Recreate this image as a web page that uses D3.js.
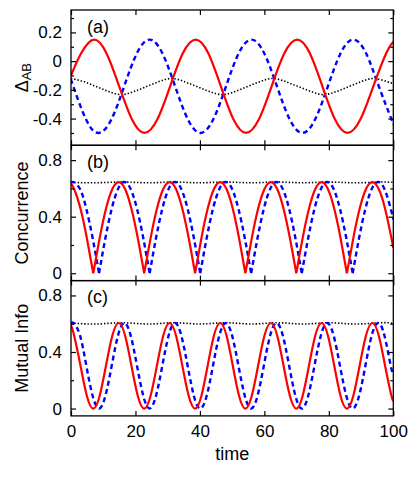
<!DOCTYPE html>
<html>
<head>
<meta charset="utf-8">
<title>Delta AB, concurrence and mutual info vs time</title>
<script src="https://cdn.jsdelivr.net/npm/d3@7"></script>
<style>
body { margin: 0; background: #fff; }
text { font-family: "Liberation Sans", Arial, sans-serif; fill: #000; }
.axis text { font-size: 17px; }
.axis line { stroke: #000; stroke-width: 1.2; }
</style>
</head>
<body>
<div id="g"></div>
<script>
// values, as [time, value]

// panel (a): Delta_AB
var deltaRed = [[0,-0.10],[3.15,0.055],[7.1,0.15],[11.0,0.055],[14.95,-0.175],[18.9,-0.405],[22.8,-0.50],[26.8,-0.405],[30.75,-0.175],[34.7,0.055],[38.7,0.15],[42.6,0.055],[46.5,-0.175],[50.4,-0.405],[54.3,-0.50],[58.3,-0.405],[62.25,-0.175],[66.2,0.055],[70.2,0.15],[74.1,0.055],[78.0,-0.175],[81.9,-0.405],[85.8,-0.50],[89.8,-0.405],[93.8,-0.175],[97.8,0.055],[100,0.135]];
var deltaBlue = [[0,-0.13],[0.7,-0.175],[4.65,-0.405],[8.6,-0.50],[12.55,-0.405],[16.5,-0.175],[20.45,0.055],[24.4,0.15],[28.35,0.055],[32.3,-0.175],[36.25,-0.405],[40.2,-0.50],[44.15,-0.405],[48.1,-0.175],[52.05,0.055],[56.0,0.15],[59.95,0.055],[63.9,-0.175],[67.85,-0.405],[71.8,-0.50],[75.75,-0.405],[79.7,-0.175],[83.65,0.055],[87.6,0.15],[91.55,0.055],[95.5,-0.175],[99.45,-0.405],[100,-0.43]];
var deltaBlack = [[0,-0.121],[3.9,-0.142],[7.8,-0.177],[11.7,-0.212],[15.6,-0.233],[19.5,-0.212],[23.4,-0.177],[27.3,-0.142],[31.2,-0.121],[35.1,-0.142],[39.0,-0.177],[43.0,-0.212],[47.0,-0.233],[50.9,-0.212],[54.8,-0.177],[58.7,-0.142],[62.6,-0.121],[66.5,-0.142],[70.5,-0.177],[74.5,-0.212],[78.4,-0.233],[82.3,-0.212],[86.2,-0.177],[90.1,-0.142],[94.0,-0.121],[97.9,-0.142],[100,-0.153]];

// panel (b): concurrence
var concRed = [[0,0.632],[0.97,0.596],[2.95,0.456],[4.93,0.247],[6.9,0],[8.88,0.247],[10.85,0.456],[12.83,0.596],[14.8,0.645],[16.78,0.596],[18.75,0.456],[20.73,0.247],[22.7,0],[24.68,0.247],[26.65,0.456],[28.63,0.596],[30.6,0.645],[32.58,0.596],[34.55,0.456],[36.53,0.247],[38.5,0],[40.45,0.247],[42.4,0.456],[44.35,0.596],[46.3,0.645],[48.25,0.596],[50.2,0.456],[52.15,0.247],[54.1,0],[56.08,0.247],[58.05,0.456],[60.03,0.596],[62.0,0.645],[63.98,0.596],[65.95,0.456],[67.93,0.247],[69.9,0],[71.86,0.247],[73.83,0.456],[75.79,0.596],[77.75,0.645],[79.71,0.596],[81.68,0.456],[83.64,0.247],[85.6,0],[87.58,0.247],[89.55,0.456],[91.53,0.596],[93.5,0.645],[95.48,0.596],[97.45,0.456],[99.43,0.247],[100,0.178]];
var concBlue = [[0,0.637],[0.8,0.645],[2.79,0.596],[4.76,0.456],[6.73,0.247],[8.7,0],[10.66,0.247],[12.63,0.456],[14.59,0.596],[16.55,0.645],[18.51,0.596],[20.48,0.456],[22.44,0.247],[24.4,0],[26.36,0.247],[28.33,0.456],[30.29,0.596],[32.25,0.645],[34.21,0.596],[36.18,0.456],[38.14,0.247],[40.1,0],[42.08,0.247],[44.05,0.456],[46.03,0.596],[48.0,0.645],[49.98,0.596],[51.95,0.456],[53.93,0.247],[55.9,0],[57.86,0.247],[59.83,0.456],[61.79,0.596],[63.75,0.645],[65.71,0.596],[67.68,0.456],[69.64,0.247],[71.6,0],[73.58,0.247],[75.55,0.456],[77.53,0.596],[79.5,0.645],[81.48,0.596],[83.45,0.456],[85.43,0.247],[87.4,0],[89.37,0.247],[91.34,0.456],[93.3,0.596],[95.27,0.645],[97.24,0.596],[99.21,0.456],[100,0.38]];
var concBlack = [[0,0.643],[8,0.640],[16,0.645],[24,0.640],[32,0.645],[40,0.640],[48,0.645],[56,0.640],[64,0.645],[72,0.640],[80,0.645],[88,0.640],[96,0.645],[100,0.643]];

// panel (c): mutual info
var miRed = [[0,0.59],[0.97,0.517],[2.95,0.303],[4.93,0.089],[6.9,0],[8.88,0.089],[10.85,0.303],[12.83,0.517],[14.8,0.605],[16.78,0.517],[18.75,0.303],[20.73,0.089],[22.7,0],[24.68,0.089],[26.65,0.303],[28.63,0.517],[30.6,0.605],[32.58,0.517],[34.55,0.303],[36.53,0.089],[38.5,0],[40.45,0.089],[42.4,0.303],[44.35,0.517],[46.3,0.605],[48.25,0.517],[50.2,0.303],[52.15,0.089],[54.1,0],[56.08,0.089],[58.05,0.303],[60.03,0.517],[62.0,0.605],[63.98,0.517],[65.95,0.303],[67.93,0.089],[69.9,0],[71.86,0.089],[73.83,0.303],[75.79,0.517],[77.75,0.605],[79.71,0.517],[81.68,0.303],[83.64,0.089],[85.6,0],[87.58,0.089],[89.55,0.303],[91.53,0.517],[93.5,0.605],[95.48,0.517],[97.45,0.303],[99.43,0.089],[100,0.065]];
var miBlue = [[0,0.60],[0.8,0.605],[2.79,0.517],[4.76,0.303],[6.73,0.089],[8.7,0],[10.66,0.089],[12.63,0.303],[14.59,0.517],[16.55,0.605],[18.51,0.517],[20.48,0.303],[22.44,0.089],[24.4,0],[26.36,0.089],[28.33,0.303],[30.29,0.517],[32.25,0.605],[34.21,0.517],[36.18,0.303],[38.14,0.089],[40.1,0],[42.08,0.089],[44.05,0.303],[46.03,0.517],[48.0,0.605],[49.98,0.517],[51.95,0.303],[53.93,0.089],[55.9,0],[57.86,0.089],[59.83,0.303],[61.79,0.517],[63.75,0.605],[65.71,0.517],[67.68,0.303],[69.64,0.089],[71.6,0],[73.58,0.089],[75.55,0.303],[77.53,0.517],[79.5,0.605],[81.48,0.517],[83.45,0.303],[85.43,0.089],[87.4,0],[89.37,0.089],[91.34,0.303],[93.3,0.517],[95.27,0.605],[97.24,0.517],[99.21,0.303],[100,0.24]];
var miBlack = [[0,0.605],[8,0.598],[16,0.607],[24,0.598],[32,0.607],[40,0.598],[48,0.607],[56,0.598],[64,0.607],[72,0.598],[80,0.607],[88,0.598],[96,0.607],[100,0.603]];

// ticks
var xTicks = [0, 20, 40, 60, 80, 100];
var deltaTicks = [-0.4, -0.2, 0, 0.2], deltaMinor = [-0.5, -0.3, -0.1, 0.1, 0.3];
var probTicks = [0, 0.4, 0.8], probMinor = [0.2, 0.6];

var width = 415, height = 490;
var left = 71, right = 393.3, top0 = 10, panelH = 135.3;

var red = {color: "#ff0000", w: 2.2, dash: null};
var blue = {color: "#0000ff", w: 2.4, dash: "5,3.5"};
var black = {color: "#000", w: 1.6, dash: "1.4,1.9"};

var panels = [
  {tag: "(a)", domain: [-0.586, 0.356], ticks: deltaTicks, minor: deltaMinor,
   series: [[deltaBlack, black, false], [deltaBlue, blue, false], [deltaRed, red, false]]},
  {tag: "(b)", label: "Concurrence", domain: [-0.052, 0.905], ticks: probTicks, minor: probMinor,
   series: [[concBlack, black, false], [concBlue, blue, true], [concRed, red, true]]},
  {tag: "(c)", label: "Mutual Info", domain: [-0.052, 0.905], ticks: probTicks, minor: probMinor,
   series: [[miBlack, black, false], [miBlue, blue, false], [miRed, red, false]]}
];

var svg = d3.select("#g").append("svg")
    .attr("width", width)
    .attr("height", height);

var x = d3.scaleLinear().domain([0, 100]).range([left, right]);

function fmt(d) { return String(+d.toFixed(1)); }

// concurrence has cusps at its zeros, so those curves are drawn arch by arch
function pieces(data, cusp) {
  if (!cusp) return [data];
  var out = [], cur = [];
  data.forEach(function (d, i) {
    cur.push(d);
    if (d[1] === 0 && i > 0 && i < data.length - 1) { out.push(cur); cur = [d]; }
  });
  out.push(cur);
  return out;
}

panels.forEach(function (p, i) {
  var y0 = top0 + i * panelH, y1 = y0 + panelH;
  var y = d3.scaleLinear().domain(p.domain).range([y1, y0]);
  var g = svg.append("g");

  g.append("clipPath").attr("id", "clip" + i)
    .append("rect").attr("x", left).attr("y", y0).attr("width", right - left).attr("height", panelH);

  var line = d3.line()
      .x(function (d) { return x(d[0]); })
      .y(function (d) { return y(d[1]); })
      .curve(d3.curveNatural);

  var lines = g.append("g").attr("clip-path", "url(#clip" + i + ")");
  p.series.forEach(function (s) {
    lines.append("path")
      .attr("d", pieces(s[0], s[2]).map(function (seg) { return line(seg); }).join(""))
      .attr("fill", "none")
      .attr("stroke", s[1].color)
      .attr("stroke-width", s[1].w)
      .attr("stroke-dasharray", s[1].dash)
      .attr("stroke-linejoin", "round");
  });

  // y axes, ticks pointing inward on both sides
  g.append("g").attr("class", "axis").attr("transform", "translate(" + left + ",0)")
    .call(d3.axisLeft(y).tickValues(p.ticks).tickSize(-5).tickPadding(9).tickFormat(fmt));
  g.append("g").attr("class", "axis").attr("transform", "translate(" + left + ",0)")
    .call(d3.axisLeft(y).tickValues(p.minor).tickSize(-3).tickFormat(""));
  g.append("g").attr("class", "axis").attr("transform", "translate(" + right + ",0)")
    .call(d3.axisRight(y).tickValues(p.ticks).tickSize(-5).tickFormat(""));
  g.append("g").attr("class", "axis").attr("transform", "translate(" + right + ",0)")
    .call(d3.axisRight(y).tickValues(p.minor).tickSize(-3).tickFormat(""));

  // x axes
  g.append("g").attr("class", "axis").attr("transform", "translate(0," + y0 + ")")
    .call(d3.axisTop(x).tickValues(xTicks).tickSize(-5).tickFormat(""));
  g.append("g").attr("class", "axis").attr("transform", "translate(0," + y1 + ")")
    .call(d3.axisBottom(x).tickValues(xTicks).tickSize(-5).tickPadding(9)
      .tickFormat(i == 2 ? function (d) { return d; } : ""));

  g.selectAll(".axis .domain").remove();
  g.selectAll(".axis").attr("font-family", null).attr("font-size", null);

  g.append("rect")
    .attr("x", left).attr("y", y0)
    .attr("width", right - left).attr("height", panelH)
    .attr("fill", "none").attr("stroke", "#000").attr("stroke-width", 1.3);

  g.append("text")
    .attr("x", 87).attr("y", y0 + 22.5)
    .style("font-size", "18px")
    .text(p.tag);

  var ylab = g.append("text")
    .attr("transform", "translate(27.5," + (y0 + panelH / 2) + ") rotate(-90)")
    .attr("text-anchor", "middle")
    .style("font-size", "18px");
  if (p.label) {
    ylab.text(p.label);
  } else {
    ylab.append("tspan").text("\u0394");
    ylab.append("tspan").attr("dy", "0.3em").style("font-size", "13px").text("AB");
  }
});

svg.append("text")
  .attr("x", (left + right) / 2).attr("y", 460)
  .attr("text-anchor", "middle")
  .style("font-size", "18px")
  .text("time");
</script>
</body>
</html>
